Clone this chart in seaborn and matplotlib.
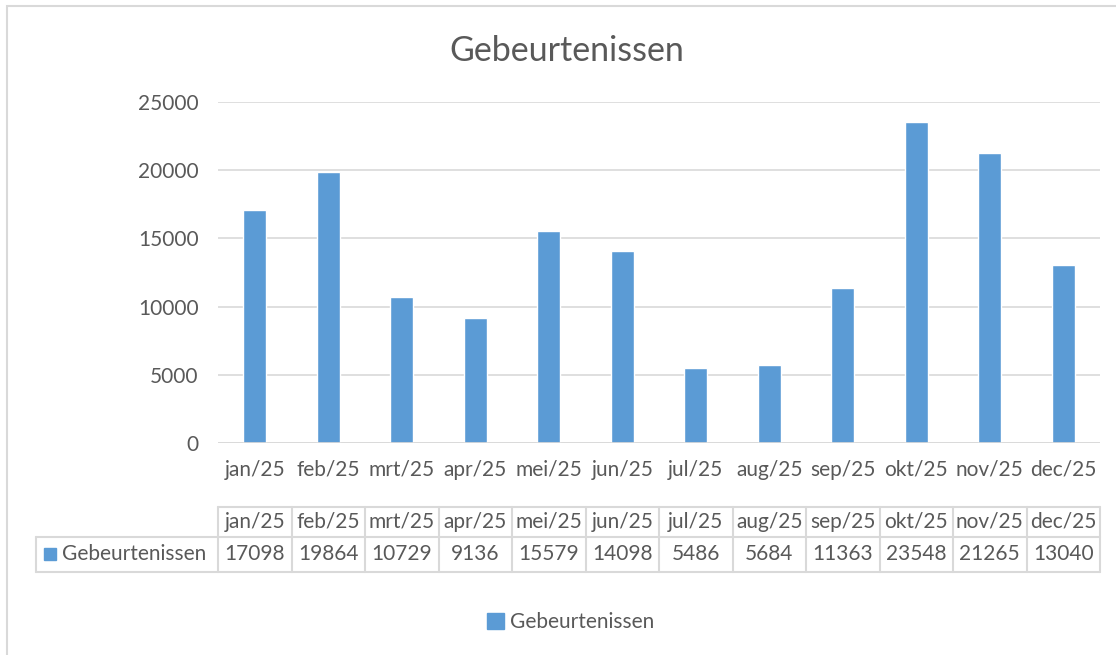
import matplotlib
matplotlib.use("Agg")
import matplotlib.pyplot as plt
import seaborn as sns
import pandas as pd
from matplotlib.transforms import blended_transform_factory
from matplotlib.patches import Rectangle
from matplotlib.lines import Line2D

# ---------------------------------
# Data
# ---------------------------------

MONTHS = ["jan/25", "feb/25", "mrt/25", "apr/25", "mei/25", "jun/25",
          "jul/25", "aug/25", "sep/25", "okt/25", "nov/25", "dec/25"]

EVENTS = [17098, 19864, 10729, 9136, 15579, 14098,
          5486, 5684, 11363, 23548, 21265, 13040]

SERIES = "Gebeurtenissen"

Y_TICKS = [0, 5000, 10000, 15000, 20000, 25000]

# ---------------------------------
# Style
# ---------------------------------

BAR_COLOR = "#5b9bd5"
TEXT_COLOR = "#595959"
LINE_COLOR = "#d9d9d9"
W, H = 1116, 655

sns.set_theme(style="white")
plt.rcParams["font.family"] = ["Lato", "DejaVu Sans"]


def fy(py):
    # pixel row -> figure fraction
    return 1 - py / H


df = pd.DataFrame({"Maand": MONTHS, SERIES: EVENTS})

fig = plt.figure(figsize=(W / 100, H / 100), dpi=100)
ax = fig.add_axes([218 / W, fy(443), 882 / W, (443 - 102) / H])

sns.barplot(data=df, x="Maand", y=SERIES, color=BAR_COLOR,
            width=0.31, saturation=1, ax=ax)

ax.set_ylim(0, 25000)
ax.set_xlim(-0.5, len(MONTHS) - 0.5)
ax.set_yticks(Y_TICKS)
ax.set_xlabel("")
ax.set_ylabel("")
ax.yaxis.grid(True, color=LINE_COLOR, linewidth=1.2)
ax.set_axisbelow(True)
for s in ax.spines.values():
    s.set_visible(False)
ax.axhline(0, color=LINE_COLOR, linewidth=1.2)
ax.tick_params(axis="both", length=0, labelsize=15, labelcolor=TEXT_COLOR)
ax.tick_params(axis="y", pad=14)
ax.tick_params(axis="x", pad=12)

# ---------------------------------
# Data table under the chart
# ---------------------------------

tr = blended_transform_factory(ax.transData, fig.transFigure)
top, mid, bot = fy(507), fy(537), fy(572)
label_left = -0.5 - (218 - 36) / 882 * len(MONTHS)
n = len(MONTHS)

lines = []
lines.append(([-0.5, n - 0.5], [top, top]))
lines.append(([label_left, n - 0.5], [mid, mid]))
lines.append(([label_left, n - 0.5], [bot, bot]))
lines.append(([label_left, label_left], [mid, bot]))
for k in range(n + 1):
    lines.append(([k - 0.5, k - 0.5], [top, bot]))
for xs, ys in lines:
    fig.add_artist(Line2D(xs, ys, transform=tr, color=LINE_COLOR,
                          linewidth=1.5, clip_on=False))

for i, (m, v) in enumerate(zip(MONTHS, EVENTS)):
    fig.text(i, (top + mid) / 2, m, transform=tr, ha="center", va="center",
             fontsize=15, color=TEXT_COLOR)
    fig.text(i, (mid + bot) / 2, str(v), transform=tr, ha="center",
             va="center", fontsize=15, color=TEXT_COLOR)

fig.add_artist(Rectangle((44 / W, fy(560)), 12 / W, 12 / H,
                         transform=fig.transFigure, color=BAR_COLOR))
fig.text(62 / W, (mid + bot) / 2, SERIES, ha="left", va="center",
         fontsize=15, color=TEXT_COLOR)

# ---------------------------------
# Title, legend, chart border
# ---------------------------------

fig.text(567 / W, fy(51), SERIES, ha="center", va="center",
         fontsize=24.5, color=TEXT_COLOR)

handle = Rectangle((0, 0), 1, 1, color=BAR_COLOR)
fig.legend([handle], [SERIES], loc="center", bbox_to_anchor=(571 / W, fy(622)),
           frameon=False, handlelength=0.8, handleheight=0.8,
           handletextpad=0.3, fontsize=15, labelcolor=TEXT_COLOR)

fig.add_artist(Rectangle((7 / W, -0.01), 1.2, fy(6) + 0.01,
                         transform=fig.transFigure, fill=False,
                         edgecolor=LINE_COLOR, linewidth=1.5))

fig.savefig("out.png", dpi=100)
